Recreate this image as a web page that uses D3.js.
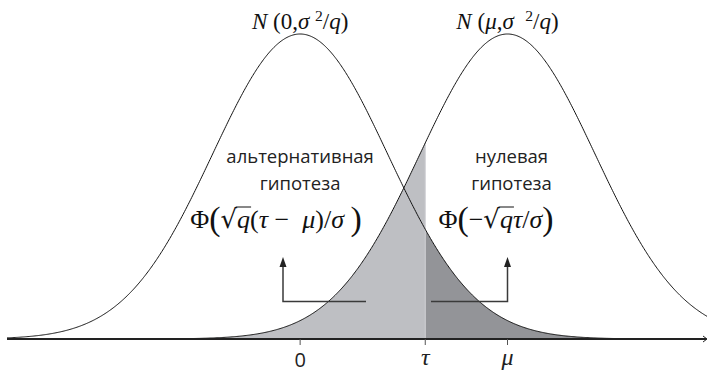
<!DOCTYPE html>
<html>
<head>
<meta charset="utf-8">
<script src="https://cdn.jsdelivr.net/npm/d3@7"></script>
<style>
  html, body { margin: 0; padding: 0; background: #fff; }
  svg { display: block; }
  text { white-space: pre; }
</style>
</head>
<body>
<svg id="chart" width="710" height="373"></svg>
<script>
// Two normal densities (in units of sigma/sqrt(q)): the alternative centred at 0 and the null at mu.
const curveMeans = [0, 2.37];
const curveSd = [1, 1];
const tau = 1.43;
const xDomain = [-3.35, 4.65];
const tickValues = [0, tau, 2.37];
const tickLabels = ["0", "τ", "μ"];
const tickItalic = [false, true, true];
const hypothesisLabels = [["альтернативная", "гипотеза"], ["нулевая", "гипотеза"]];

const W = 710, H = 373;
const svg = d3.select("#chart");
const textFont = "'Open Sans', 'Noto Sans', sans-serif";
const mathFont = "'Liberation Serif', 'DejaVu Serif', serif";

const x = d3.scaleLinear().domain(xDomain).range([7, 707]);
const y = d3.scaleLinear().domain([0, 1 / Math.sqrt(2 * Math.PI)]).range([339, 34]);

const pdf = (v, m, s) => Math.exp(-0.5 * ((v - m) / s) ** 2) / (s * Math.sqrt(2 * Math.PI));
const grid = d3.range(xDomain[0], xDomain[1] + 1e-9, 0.01);

const area = d3.area().x(d => x(d[0])).y0(y(0)).y1(d => y(d[1]));
const line = d3.line().x(d => x(d[0])).y(d => y(d[1]));

// Light region: null density left of tau; dark region: alternative density right of tau.
const leftPart = grid.filter(v => v <= tau).concat([tau]).map(v => [v, pdf(v, curveMeans[1], curveSd[1])]);
const rightPart = [tau].concat(grid.filter(v => v >= tau)).map(v => [v, pdf(v, curveMeans[0], curveSd[0])]);

svg.append("path").attr("d", area(leftPart)).attr("fill", "#bebfc3");
svg.append("path").attr("d", area(rightPart)).attr("fill", "#939498");
svg.append("line")
  .attr("x1", x(tau)).attr("x2", x(tau))
  .attr("y1", y(pdf(tau, curveMeans[1], curveSd[1]))).attr("y2", y(0))
  .attr("stroke", "#cfd0d3").attr("stroke-width", 1);

curveMeans.forEach((m, i) => {
  svg.append("path")
    .attr("d", line(grid.map(v => [v, pdf(v, m, curveSd[i])])))
    .attr("fill", "none").attr("stroke", "#111").attr("stroke-width", 1);
});

// Horizontal axis with a small arrow head and tick marks
svg.append("line").attr("x1", x(xDomain[0])).attr("x2", x(xDomain[1]) - 1)
  .attr("y1", y(0)).attr("y2", y(0)).attr("stroke", "#222").attr("stroke-width", 2);
svg.append("path")
  .attr("d", `M${x(xDomain[1]) - 4},${y(0) - 3}L${x(xDomain[1])},${y(0)}L${x(xDomain[1]) - 4},${y(0) + 3}`)
  .attr("fill", "none").attr("stroke", "#222").attr("stroke-width", 1);

const ticks = svg.append("g");
tickValues.forEach((v, i) => {
  ticks.append("line").attr("x1", x(v)).attr("x2", x(v)).attr("y1", y(0)).attr("y2", y(0) + 6)
    .attr("stroke", "#555").attr("stroke-width", 1);
  ticks.append("text").attr("x", x(v)).attr("y", tickItalic[i] ? 365 : 367).attr("text-anchor", "middle")
    .style("font-family", tickItalic[i] ? mathFont : textFont)
    .style("font-style", tickItalic[i] ? "italic" : "normal")
    .style("font-size", tickItalic[i] ? "24px" : "20px")
    .attr("fill", "#222").text(tickLabels[i]);
});

// Arrows from the shaded regions to their probability formulas
function elbowArrow(x0, xCorner, yLine, yTip) {
  svg.append("path").attr("d", `M${x0},${yLine}H${xCorner}V${yTip + 8}`)
    .attr("fill", "none").attr("stroke", "#3a3a3a").attr("stroke-width", 1.5);
  svg.append("path").attr("d", `M${xCorner - 3.5},${yTip + 10}L${xCorner},${yTip}L${xCorner + 3.5},${yTip + 10}Z`)
    .attr("fill", "#222");
}
elbowArrow(366, 283, 301.5, 257);
elbowArrow(431, x(curveMeans[1]), 301.5, 257);

// Lays out a row of mixed text pieces centred at cx, with optional radical overline
function formula(pieces, cx, baseline, fs) {
  const g = svg.append("g");
  let cursor = 0;
  const nodes = pieces.map(p => {
    const size = p.sup ? fs * 0.68 : fs * (p.scale || 1);
    const t = g.append("text")
      .attr("y", baseline - (p.sup ? fs * 0.36 : 0) + (p.dy || 0))
      .style("font-family", p.ff || mathFont)
      .style("font-style", p.it ? "italic" : "normal")
      .style("font-size", size + "px")
      .attr("fill", "#111")
      .text(p.t);
    const w = t.node().getComputedTextLength();
    const n = { t, x: cursor, w, p };
    cursor += w + (p.gap || 0);
    return n;
  });
  const shift = cx - cursor / 2;
  nodes.forEach(n => n.t.attr("x", n.x + shift));
  nodes.forEach((n, i) => {
    if (n.p.rad) {
      const bb = n.t.node().getBBox();
      const under = nodes[i + 1];
      const top = bb.y + 3;
      g.append("line")
        .attr("x1", bb.x + bb.width - 1.8).attr("x2", under.x + shift + under.w + 1)
        .attr("y1", top).attr("y2", top)
        .attr("stroke", "#111").attr("stroke-width", 1);
    }
  });
  return g;
}

formula([
  { t: "N", it: true }, { t: " (0," }, { t: "σ", it: true }, { t: " " }, { t: "2", sup: true },
  { t: "/" }, { t: "q", it: true }, { t: ")" }
], x(curveMeans[0]), 29, 23);
formula([
  { t: "N", it: true }, { t: " (" }, { t: "μ", it: true }, { t: "," }, { t: "σ", it: true }, { t: "  " },
  { t: "2", sup: true }, { t: "/" }, { t: "q", it: true }, { t: ")" }
], x(curveMeans[1]), 29, 23);

formula([
  { t: "Φ" }, { t: "(", scale: 1.3, dy: 2 }, { t: "√", ff: "'DejaVu Sans', sans-serif", rad: true },
  { t: "q", it: true }, { t: "(" }, { t: "τ", it: true }, { t: " −  " }, { t: "μ", it: true },
  { t: ")/" }, { t: "σ", it: true }, { t: " " }, { t: ")", scale: 1.3, dy: 2 }
], 276, 228, 26);
formula([
  { t: "Φ" }, { t: "(", scale: 1.3, dy: 2 }, { t: "−" }, { t: "√", ff: "'DejaVu Sans', sans-serif", rad: true },
  { t: "q", it: true }, { t: "τ", it: true }, { t: "/" }, { t: "σ", it: true }, { t: ")", scale: 1.3, dy: 2 }
], 496, 228, 26);

// Region captions
hypothesisLabels.forEach((lines, i) => {
  const cx = x(curveMeans[i]) + (i === 0 ? 0 : 4);
  lines.forEach((s, j) => {
    svg.append("text").attr("x", cx).attr("y", 163 + j * 27).attr("text-anchor", "middle")
      .style("font-family", textFont).style("font-size", "18.5px").attr("fill", "#222").text(s);
  });
});
</script>
</body>
</html>
